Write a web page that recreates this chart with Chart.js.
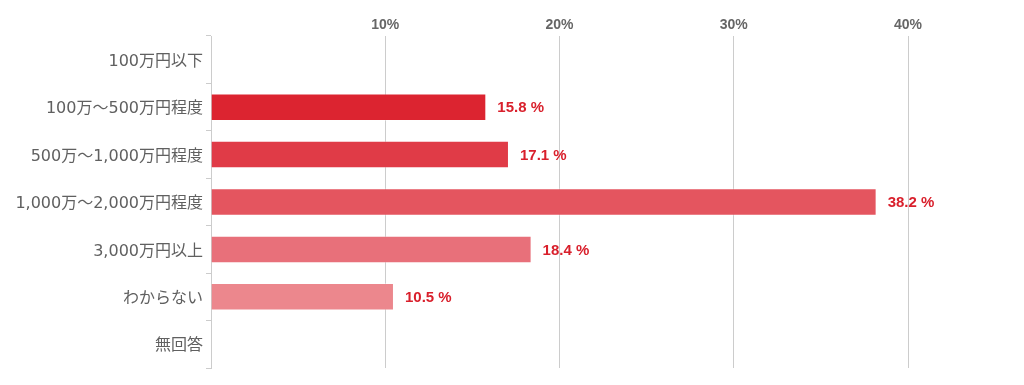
<!DOCTYPE html>
<html lang="ja">
<head>
<meta charset="utf-8">
<title>年収分布</title>
<script src="https://cdn.jsdelivr.net/npm/chart.js@4"></script>
<style>
  html, body { margin: 0; padding: 0; background: #fff; }
  #wrap { width: 1024px; height: 385px; position: relative; }
</style>
</head>
<body>
<div id="wrap"><canvas id="chart"></canvas></div>
<script>
// カテゴリと値（％）
const categories = [
    '100万円以下',
    '100万～500万円程度',
    '500万～1,000万円程度',
    '1,000万～2,000万円程度',
    '3,000万円以上',
    'わからない',
    '無回答'
];
const values = [null, 15.8, 17.1, 38.2, 18.4, 10.5, null];
const barColors = ['#dc2430', '#dc2430', '#e03b47', '#e4555f', '#e8707a', '#ec878d', '#ec878d'];
const xTicks = [10, 20, 30, 40];

// 値ラベル描画
const valueLabels = {
    id: 'valueLabels',
    afterDatasetsDraw(chart) {
        const ctx = chart.ctx;
        const meta = chart.getDatasetMeta(0);
        ctx.save();
        ctx.font = 'bold 15px "Liberation Sans", Arial, sans-serif';
        ctx.fillStyle = '#d9202c';
        ctx.textBaseline = 'middle';
        meta.data.forEach((bar, i) => {
            if (values[i] == null) return;
            ctx.fillText(values[i].toFixed(1) + ' %', bar.x + 11, bar.y + 1);
        });
        ctx.restore();
    }
};

new Chart(document.getElementById('chart'), {
    type: 'bar',
    data: {
        labels: categories,
        datasets: [{
            data: values,
            backgroundColor: barColors,
            borderColor: 'rgba(255,255,255,0.35)',
            borderWidth: 1,
            categoryPercentage: 1,
            barPercentage: 0.58
        }]
    },
    options: {
        indexAxis: 'y',
        responsive: true,
        maintainAspectRatio: false,
        animation: false,
        layout: { padding: { left: 0, right: 116, top: 0, bottom: 17 } },
        plugins: {
            legend: { display: false },
            tooltip: { enabled: false }
        },
        scales: {
            x: {
                position: 'top',
                min: 0,
                max: 40,
                afterFit(scale) { scale.height = 36; },
                afterBuildTicks(scale) {
                    scale.ticks = [0].concat(xTicks).map(v => ({ value: v }));
                },
                border: { display: false },
                grid: {
                    drawTicks: false,
                    color: ctx => ctx.tick && ctx.tick.value === 0 ? 'rgba(0,0,0,0)' : '#cccccc',
                    lineWidth: 1
                },
                ticks: {
                    padding: 2,
                    color: '#666',
                    font: { family: '"Liberation Sans", Arial, sans-serif', size: 14, weight: 'bold' },
                    callback: v => v === 0 ? '' : v + '%'
                }
            },
            y: {
                afterFit(scale) { scale.width = 211; },
                border: { display: true, color: '#cccccc' },
                grid: {
                    offset: true,
                    drawOnChartArea: false,
                    tickLength: 5,
                    color: '#cccccc'
                },
                ticks: {
                    padding: 3,
                    labelOffset: 2,
                    color: '#606060',
                    font: { family: '"DejaVu Sans", "Noto Sans CJK JP", sans-serif', size: 16 }
                }
            }
        }
    },
    plugins: [valueLabels]
});
</script>
</body>
</html>
